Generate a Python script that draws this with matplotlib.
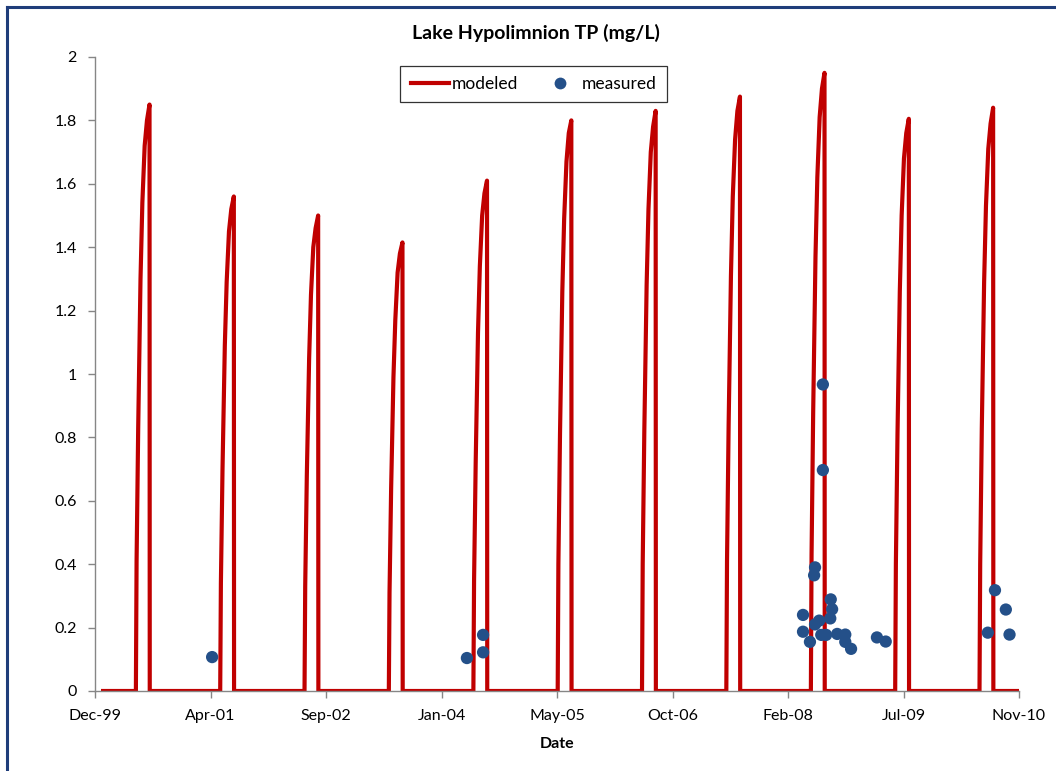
import matplotlib
matplotlib.use("Agg")
import matplotlib.pyplot as plt
import matplotlib.dates as mdates
from matplotlib.lines import Line2D
import datetime as dt

plt.rcParams['font.family'] = ['Lato', 'DejaVu Sans']

# ---------------- data ----------------
title = "Lake Hypolimnion TP (mg/L)"
x_label = "Date"

# modeled: yearly stratified season, (month, day) points and values per season
season_years = [2000, 2001, 2002, 2003, 2004, 2005, 2006, 2007, 2008, 2009, 2010]
season_points_md = [(5, 31), (6, 3), (6, 10), (6, 20), (6, 28), (7, 8), (7, 18), (7, 29), (7, 30)]
modeled_2000 = [0, 0.41, 0.83, 1.30, 1.54, 1.72, 1.80, 1.85, 0]
modeled_2001 = [0, 0.34, 0.70, 1.09, 1.29, 1.45, 1.52, 1.56, 0]
modeled_2002 = [0, 0.33, 0.68, 1.05, 1.25, 1.40, 1.46, 1.50, 0]
modeled_2003 = [0, 0.31, 0.64, 0.99, 1.17, 1.32, 1.38, 1.415, 0]
modeled_2004 = [0, 0.35, 0.72, 1.13, 1.34, 1.50, 1.57, 1.61, 0]
modeled_2005 = [0, 0.40, 0.81, 1.26, 1.49, 1.67, 1.76, 1.80, 0]
modeled_2006 = [0, 0.40, 0.82, 1.28, 1.52, 1.70, 1.78, 1.83, 0]
modeled_2007 = [0, 0.41, 0.84, 1.31, 1.56, 1.74, 1.83, 1.875, 0]
modeled_2008 = [0, 0.43, 0.88, 1.37, 1.62, 1.81, 1.90, 1.95, 0]
modeled_2009 = [0, 0.40, 0.81, 1.26, 1.50, 1.68, 1.76, 1.805, 0]
modeled_2010 = [0, 0.40, 0.83, 1.29, 1.53, 1.71, 1.79, 1.84, 0]
modeled_seasons = [modeled_2000, modeled_2001, modeled_2002, modeled_2003, modeled_2004,
                   modeled_2005, modeled_2006, modeled_2007, modeled_2008, modeled_2009,
                   modeled_2010]
modeled_start = ("2000-01-01", 0.0)
modeled_end = ("2010-12-31", 0.0)

measured_dates = ["2001-04-26", "2004-05-03", "2004-07-12", "2004-07-12",
                  "2008-04-27", "2008-04-27", "2008-05-27", "2008-06-18", "2008-06-14",
                  "2008-06-18", "2008-07-06", "2008-07-22", "2008-07-22", "2008-07-15",
                  "2008-08-05", "2008-08-25", "2008-08-31", "2008-08-23", "2008-09-22",
                  "2008-10-27", "2008-10-27", "2008-11-21", "2009-03-13", "2009-04-20",
                  "2010-08-06", "2010-09-22", "2010-07-06", "2010-10-08"]
measured_values = [0.107, 0.104, 0.177, 0.122,
                   0.240, 0.187, 0.155, 0.390, 0.365,
                   0.210, 0.222, 0.967, 0.697, 0.177,
                   0.177, 0.289, 0.258, 0.229, 0.180,
                   0.178, 0.155, 0.133, 0.169, 0.156,
                   0.318, 0.257, 0.184, 0.178]

y_ticks = [0, 0.2, 0.4, 0.6, 0.8, 1, 1.2, 1.4, 1.6, 1.8, 2]
y_tick_labels = ["0", "0.2", "0.4", "0.6", "0.8", "1", "1.2", "1.4", "1.6", "1.8", "2"]
x_axis_start = "1999-12-06"
x_axis_end = "2010-11-18"
x_major_days = 500

# ---------------- build series ----------------
def d(s):
    return dt.datetime.strptime(s, "%Y-%m-%d")

mod_dates = [d(modeled_start[0])]
mod_vals = [modeled_start[1]]
for yr, vals in zip(season_years, modeled_seasons):
    for (m, dd), v in zip(season_points_md, vals):
        mod_dates.append(dt.datetime(yr, m, dd))
        mod_vals.append(v)
mod_dates.append(d(modeled_end[0]))
mod_vals.append(modeled_end[1])

meas_dates = [d(s) for s in measured_dates]

# ---------------- plot ----------------
W, H = 1056, 771
fig = plt.figure(figsize=(W / 100, H / 100), dpi=100)
fig.patch.set_facecolor("white")
ax = fig.add_axes([95 / W, 1 - 691 / H, (1019 - 95) / W, (691 - 57) / H])

red = "#C00000"
blue = "#245089"
axis_gray = "#868686"

ax.plot(mod_dates, mod_vals, color=red, lw=3.0, solid_joinstyle="round",
        solid_capstyle="butt", zorder=2)
ax.scatter(meas_dates, measured_values, s=78, color=blue, edgecolors="none", zorder=3)

x0, x1 = d(x_axis_start), d(x_axis_end)
ax.set_xlim(x0, x1)
ax.set_ylim(0, 2)
xt = []
t = x0
while t <= x1:
    xt.append(t)
    t = t + dt.timedelta(days=x_major_days)
ax.set_xticks(xt)
ax.xaxis.set_major_formatter(mdates.DateFormatter("%b-%y"))
ax.set_yticks(y_ticks)
ax.set_yticklabels(y_tick_labels)

for s in ["top", "right"]:
    ax.spines[s].set_visible(False)
for s in ["left", "bottom"]:
    ax.spines[s].set_color(axis_gray)
    ax.spines[s].set_linewidth(1.0)
ax.tick_params(axis="both", colors=axis_gray, length=5, width=1.0, labelcolor="black",
               labelsize=11.5)
ax.tick_params(axis="x", pad=8)
ax.tick_params(axis="y", pad=8)

ax.set_xlabel(x_label, fontsize=11.5, fontweight="bold", labelpad=10)
fig.text(536 / W, 1 - 33 / H, title, ha="center", va="center", fontsize=14,
         fontweight="bold")

handles = [Line2D([], [], color=red, lw=3.0),
           Line2D([], [], marker="o", ls="none", color=blue, markersize=8.5,
                  markeredgewidth=0)]
leg = fig.legend(handles, ["modeled", "measured"], loc="center",
                 bbox_to_anchor=(533.5 / W, 1 - 84 / H), ncol=2, fontsize=12.5,
                 frameon=True, fancybox=False, shadow=False, handlelength=2.2,
                 handletextpad=0.15, columnspacing=1.3, borderpad=0.6)
leg.get_frame().set_edgecolor("black")
leg.get_frame().set_linewidth(0.9)

# outer chart-area border (left and top visible)
border = "#1F3D7A"
fig.add_artist(Line2D([6.5 / W, 6.5 / W], [0, 1 - 6.5 / H], transform=fig.transFigure,
                      color=border, lw=2.2))
fig.add_artist(Line2D([6.5 / W, 1], [1 - 6.5 / H, 1 - 6.5 / H], transform=fig.transFigure,
                      color=border, lw=2.2))

fig.savefig("out.png", dpi=100)
